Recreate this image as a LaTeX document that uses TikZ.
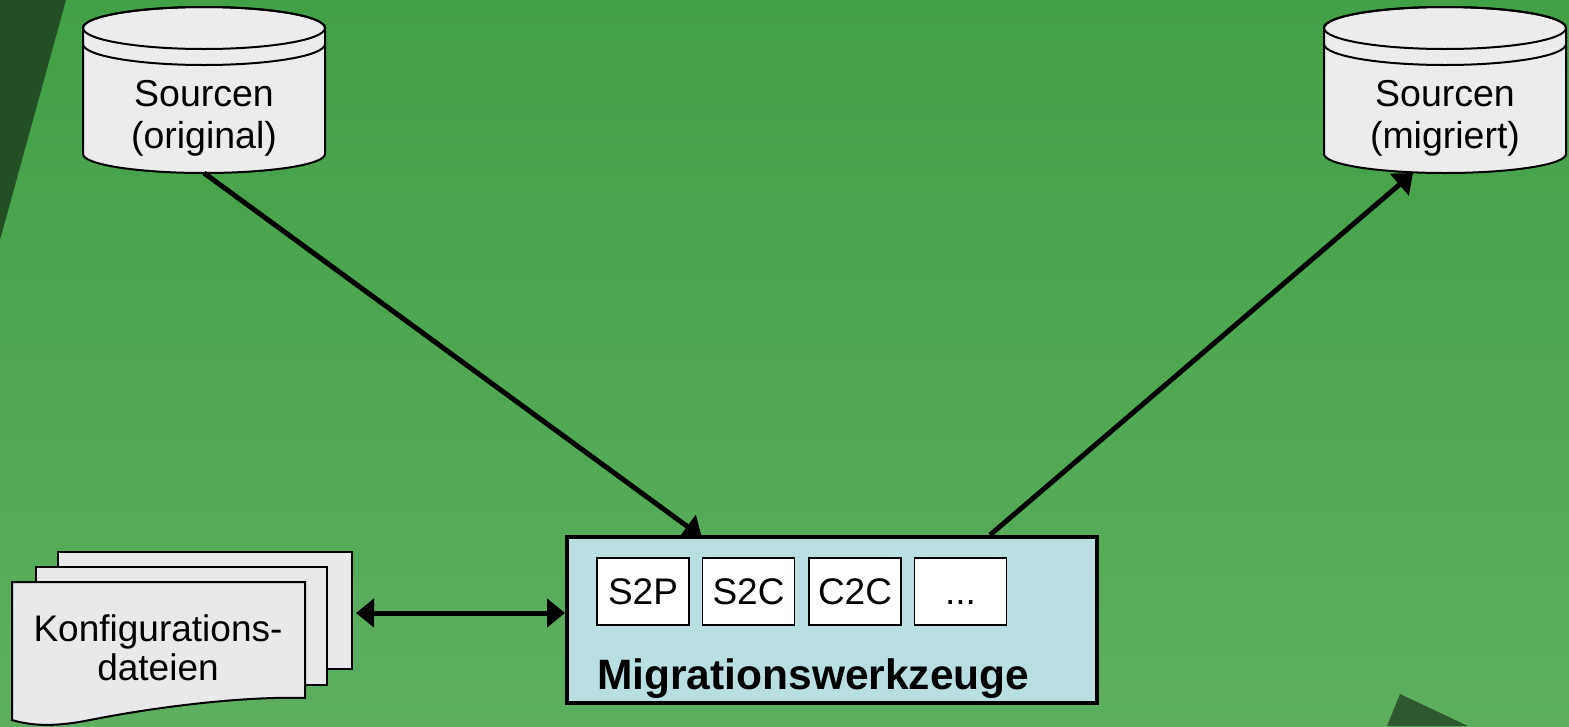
\documentclass[tikz,border=0pt]{standalone}
\usepackage{fontspec}
\setmainfont{Liberation Sans}
\usetikzlibrary{arrows.meta,calc}
\definecolor{bgtop}{RGB}{66,160,70}
\definecolor{bgbot}{RGB}{93,175,95}
\definecolor{darkgreenA}{RGB}{34,80,36}
\definecolor{darkgreenB}{RGB}{46,88,46}
\definecolor{toolfill}{RGB}{185,223,227}
\definecolor{pagefill}{RGB}{233,233,233}
\definecolor{cylfill}{RGB}{236,236,236}
\begin{document}
\begin{tikzpicture}[x=1pt,y=-1pt,
  cyl/.style={draw=black,line width=2pt,fill=cylfill},
  page/.style={draw=black,line width=2pt,fill=pagefill},
  conn/.style={line width=5pt,-{Triangle[length=18pt,width=28pt]}},
  dconn/.style={line width=5pt,{Triangle[length=18pt,width=28pt]}-{Triangle[length=18pt,width=28pt]}},
  toolbox/.style={draw=black,line width=1.5pt,fill=white,minimum width=92pt,minimum height=67pt,inner sep=0pt,text height=26.5pt,text depth=0pt,font=\fontsize{37pt}{42pt}\selectfont},
  cyllbl/.style={inner sep=0pt,align=center,font=\fontsize{37.5pt}{42pt}\selectfont},
  doclbl/.style={inner sep=0pt,align=center,font=\fontsize{37pt}{39pt}\selectfont},
  area/.style={inner sep=0pt,outer sep=0pt}
]
\useasboundingbox (0,0) rectangle (1569,726);
% background
\shade[top color=bgtop,bottom color=bgbot] (0,0) rectangle (1569,726);
\fill[darkgreenA] (0,0) -- (66,0) -- (0,240) -- cycle;
\fill[darkgreenB] (1387,726) -- (1400,694) -- (1468,726) -- cycle;

% cylinders
\foreach \cx in {204,1445}{
  \path[cyl] (\cx-121,28) -- (\cx-121,154)
     arc[start angle=180,end angle=360,x radius=121pt,y radius=19pt]
     -- (\cx+121,28)
     arc[start angle=0,end angle=180,x radius=121pt,y radius=21pt] -- cycle;
  \draw[line width=2pt] (\cx,28) ellipse[x radius=121pt,y radius=21pt];
  \draw[line width=2pt] (\cx-121,44) arc[start angle=180,end angle=360,x radius=121pt,y radius=21pt];
}
\node[area,minimum width=242pt,minimum height=166pt] (src) at (204,90) {};
\node[area,minimum width=242pt,minimum height=166pt] (dst) at (1445,90) {};
\node[cyllbl] (srclbl) at (204,118) {Sourcen\\(original)};
\node[cyllbl] (dstlbl) at (1445,118) {Sourcen\\(migriert)};

% configuration files
\path[page] (58,552) rectangle (352,669);
\path[page] (36,567) rectangle (327,685);
\path[page] (12,582) -- (305,582) -- (305,698)
   .. controls (240,696) and (150,708) .. (90,720)
   .. controls (60,726) and (35,727) .. (12,720) -- cycle;
\node[area,minimum width=340pt,minimum height=122pt] (docs) at (182,613) {};
\node[doclbl] (docslbl) at (158,648) {Konfigurations-\\dateien};

% migration tools
\node[draw=black,line width=4pt,fill=toolfill,minimum width=530pt,minimum height=166pt,inner sep=0pt] (tools) at (832,620) {};
\node[toolbox] (S2P) at (643,591.5) {S2P};
\node[toolbox] (S2C) at (748.5,591.5) {S2C};
\node[toolbox] (C2C) at (855,591.5) {C2C};
\node[toolbox] (more) at (960.5,591.5) {...};
\node[anchor=base west,inner sep=0pt,font=\fontsize{42.5pt}{46pt}\selectfont\bfseries] (toolname) at (597,689) {Migrationswerkzeuge};

% connectors
\draw[conn] (src.south) -- ($(S2C.west |- tools.north)+(0,2)$);
\draw[conn] ($(tools.north)+(158,0)$) -- ($(dst.south)+(-32,0)$);
\draw[dconn] ($(docs.east)+(4,0)$) -- (docs.east -| tools.west);
\end{tikzpicture}
\end{document}
